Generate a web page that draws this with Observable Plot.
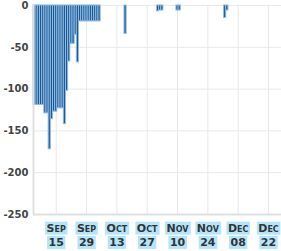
<!DOCTYPE html>
<html>
<head>
<meta charset="utf-8">
<script src="https://cdn.jsdelivr.net/npm/d3@7"></script>
<script src="https://cdn.jsdelivr.net/npm/@observablehq/plot@0.6"></script>
<style>
  html, body { margin: 0; padding: 0; background: #fff; }
</style>
</head>
<body>
<div id="chart"></div>
<script>
// Daily values starting at startDate (one value per day)
const startDate = "2020-09-05";
const values = [
  -119, -119, -119, -119, -119,   // Sep 5-9
  -129, -129,                     // Sep 10-11
  -172,                           // Sep 12
  -136,                           // Sep 13
  -127, -127,                     // Sep 14-15
  -123, -123, -123,               // Sep 16-18
  -142,                           // Sep 19
  -102,                           // Sep 20
  -67,                            // Sep 21
  -46, -46,                       // Sep 22-23
  -35,                            // Sep 24
  -68,                            // Sep 25
  -19, -19, -19, -19, -19, -19, -19, -19, -19, -19, // Sep 26 - Oct 5
  0, 0, 0, 0, 0, 0, 0, 0, 0, 0, 0, // Oct 6-16
  -34,                            // Oct 17
  0, 0, 0, 0, 0, 0, 0, 0, 0, 0, 0, 0, 0, 0, // Oct 18-31
  -7, -6, -6,                     // Nov 1-3
  0, 0, 0, 0, 0, 0,               // Nov 4-9
  -6, -6,                         // Nov 10-11
  0, 0, 0, 0, 0, 0, 0, 0, 0, 0, 0, 0, 0, 0, 0, 0, 0, 0, 0, 0, // Nov 12 - Dec 1
  -15, -6,                        // Dec 2-3
  0, 0, 0, 0, 0, 0, 0, 0, 0, 0, 0, 0, 0, 0, 0, 0, 0, 0, 0, 0, 0, 0, 0, 0, 0 // Dec 4-28
];
const xTicks = ["2020-09-15", "2020-09-29", "2020-10-13", "2020-10-27", "2020-11-10", "2020-11-24", "2020-12-08", "2020-12-22"];
const yTicks = [0, -50, -100, -150, -200, -250];

const start = new Date(startDate + "T00:00:00Z");
const data = values.map((v, i) => ({ date: d3.utcDay.offset(start, i), value: v }));
const tickDates = xTicks.map(s => new Date(s + "T00:00:00Z"));
const xStart = d3.utcHour.offset(start, -12);
const xEnd = data[data.length - 1].date;

const chart = Plot.plot({
  width: 281,
  height: 251,
  marginTop: 5,
  marginBottom: 37,
  marginLeft: 33,
  marginRight: 0,
  style: { fontFamily: "DejaVu Sans", fontWeight: "bold", background: "#fff" },
  x: { type: "utc", domain: [xStart, xEnd], label: null },
  y: { domain: [-250, 0], label: null },
  marks: [
    Plot.gridX(tickDates, { stroke: "#e8e8e8", strokeOpacity: 1, strokeWidth: 1 }),
    Plot.gridY(yTicks, { stroke: "#e8e8e8", strokeOpacity: 1, strokeWidth: 1 }),
    Plot.rectY(data, {
      x1: d => d3.utcHour.offset(d.date, -12),
      x2: d => d3.utcHour.offset(d.date, 12),
      y: "value",
      fill: "#1b5794",
      stroke: "#8fbde4",
      strokeWidth: 1,
      inset: 0
    }),
    Plot.ruleX([xStart], { stroke: "#e0e0e0", strokeWidth: 2 }),
    Plot.ruleY([-250], { stroke: "#e0e0e0", strokeWidth: 2 }),
    Plot.axisY(yTicks, { tickSize: 0, tickPadding: 5, tickFormat: d => String(d), fontSize: 10, fill: "#444", label: null }),
    Plot.axisX(tickDates, { tickSize: 0, tickPadding: 7, tickFormat: d3.utcFormat("%b\n%d"), lineHeight: 1.3, fontSize: 11, fill: "#333", label: null })
  ]
});

document.getElementById("chart").append(chart);

// light-blue highlight boxes behind each line of the x tick labels
const svgNS = "http://www.w3.org/2000/svg";
chart.querySelectorAll('g[aria-label="x-axis tick label"] text').forEach(text => {
  text.style.fontVariant = "small-caps";
  const parent = text.parentNode;
  const tspans = text.querySelectorAll("tspan");
  const parts = tspans.length ? Array.from(tspans) : [text];
  parts.forEach(t => {
    const bb = t.getBBox();
    const pad = 1.5;
    const r = document.createElementNS(svgNS, "rect");
    r.setAttribute("x", bb.x - pad);
    r.setAttribute("y", bb.y);
    r.setAttribute("width", bb.width + 2 * pad);
    r.setAttribute("height", bb.height);
    r.setAttribute("fill", "#b3e5fc");
    r.setAttribute("stroke", "none");
    const tr = text.getAttribute("transform");
    if (tr) r.setAttribute("transform", tr);
    parent.insertBefore(r, text);
  });
});
</script>
</body>
</html>
